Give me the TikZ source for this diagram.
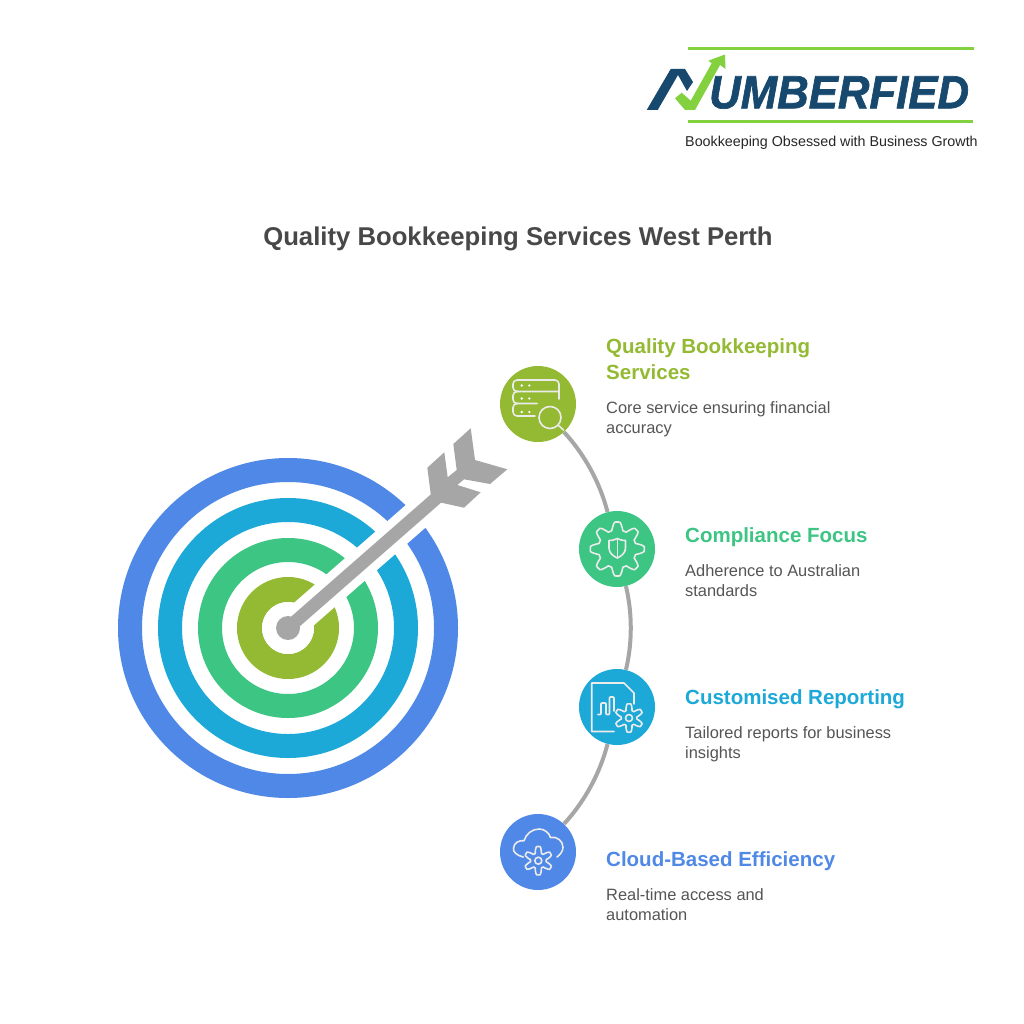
\documentclass[tikz,border=0pt]{standalone}
\usepackage{fontspec}
\setmainfont{Liberation Sans}
\newfontfamily\logofont[FakeBold=1.5]{Liberation Sans}
\definecolor{olivec}{HTML}{94BA33}
\definecolor{greenc}{HTML}{3CC583}
\definecolor{cyanc}{HTML}{1DA9D8}
\definecolor{bluec}{HTML}{4F88E6}
\definecolor{grayc}{HTML}{A6A6A6}
\definecolor{titlec}{HTML}{484848}
\definecolor{bodyc}{HTML}{555555}
\definecolor{navyc}{HTML}{17496F}
\definecolor{limec}{HTML}{84D13F}
\tikzset{
  ring/.style={line width=24pt,draw=#1,fill=none},
  badge/.style={circle,minimum size=76pt,inner sep=0pt,fill=#1},
  heading/.style={anchor=north west,inner sep=0pt,align=left,font=\fontsize{20.5}{26}\selectfont\bfseries,text=#1},
  bodytext/.style={anchor=north west,inner sep=0pt,align=left,font=\fontsize{16.4}{20}\selectfont,text=bodyc},
  link/.style={draw=grayc,line width=4pt,looseness=.85},
  ico/.style={draw=white!92!black,line width=1.6pt,line cap=round,line join=round,fill=none}
}
\newcommand{\gearicon}[6]{%
  \draw[ico] plot[domain=0:360,samples=361,variable=\t]
  ({#1+(#3+#4*max(min(1.35*cos(#5*\t+#6),1),-1))*cos(\t)},{#2+(#3+#4*max(min(1.35*cos(#5*\t+#6),1),-1))*sin(\t)}) -- cycle;
}
\begin{document}
\begin{tikzpicture}[x=1pt,y=-1pt]
\useasboundingbox (0,0) rectangle (1024,1024);
\fill[white] (0,0) rectangle (1024,1024);
% logo
\draw[limec,line width=3pt] (688,49) -- (974,49);
\draw[limec,line width=3pt] (688,122) -- (973,122);
\fill[navyc] (646.7,110) -- (670.7,69) -- (685,69) -- (693,82) -- (687,91) -- (678,75) -- (657.7,110) -- cycle;
\fill[limec] (675,98.3) -- (681.7,92.7) -- (690.7,100.7) -- (711.7,63.3) -- (708.3,60.7) -- (725,54.5) -- (725.5,69) -- (720,65) -- (695,110) -- (685,110) -- cycle;
\node[anchor=west,inner sep=0pt,text=navyc] (logotext) at (709,92.5) {\logofont\fontsize{46.5}{46.5}\selectfont\itshape\bfseries\scalebox{.94}[1]{UMBERFIED}};
\node[anchor=west,inner sep=0pt,text=black!85] (tagline) at (685,142.5) {\fontsize{14.3}{16}\selectfont Bookkeeping Obsessed with Business Growth};
% title
\node[inner sep=0pt,text=titlec] (title) at (518,239) {\fontsize{25.7}{32}\selectfont\bfseries Quality Bookkeeping Services West Perth};
% target
\coordinate (hub) at (288,628);
\draw[ring=bluec] (hub) circle (158);
\draw[ring=cyanc] (hub) circle (118);
\draw[ring=greenc] (hub) circle (78);
\draw[line width=25pt,draw=olivec] (hub) circle (38.5);
\coordinate (cutend) at (440,495);
\draw[white,line width=30pt] (hub) -- (cutend);
\fill[white] (hub) circle (26);
\draw[grayc,line width=13pt] (hub) -- (cutend);
\fill[grayc] (hub) circle (12);
\fill[grayc] (470.7,428.3) -- (475,460) -- (507.3,469.3) -- (490,484) -- (464,479.3) -- (457.3,485) -- (480.7,492.3) -- (464,507.7) -- (436.7,501.7) -- (430.7,494) -- (427.3,467.7) -- (444.3,452.3) -- (447.7,477.3) -- (456.7,470) -- (453.3,444) -- cycle;
% badges
\node[badge=olivec] (a) at (538,404) {};
\node[badge=greenc] (b) at (617,549) {};
\node[badge=cyanc] (c) at (617,707) {};
\node[badge=bluec] (d) at (538,852) {};
\draw[link] (a) to[bend left=14.2] (b);
\draw[link] (b) to[bend left=13.5] (c);
\draw[link] (c) to[bend left=14.2] (d);
% icon a
\draw[ico,rounded corners=4pt] (559,399) -- (559,380) -- (513,380) -- (513,391.5) -- (559,391.5);
\draw[ico,rounded corners=4pt] (518,391.5) -- (513,391.5) -- (513,403.5) -- (537,403.5);
\draw[ico,rounded corners=4pt] (518,403.5) -- (513,403.5) -- (513,416) -- (535,416);
\foreach \yy in {385.5,398.5,412}{\fill[white] (521.7,\yy) circle (1.3); \fill[white] (529.3,\yy) circle (1.3);}
\draw[ico] (550,417.5) circle (11);
\draw[ico] (558,425) -- (563.5,430);
% icon b
\gearicon{617.3}{549}{23}{4}{8}{0}
\draw[ico] (609,540.5) .. controls (613,540.5) and (615,539.5) .. (617.3,538.5) .. controls (619.5,539.5) and (621.5,540.5) .. (625.5,540.5) -- (625.5,548) .. controls (625.5,553) and (621.5,556) .. (617.3,558) .. controls (613,556) and (609,553) .. (609,548) -- cycle;
\draw[ico] (617.3,538.5) -- (617.3,558);
% icon c
\draw[ico] (614,731.5) -- (591.7,731.5) -- (591.7,683) -- (624,683) -- (634,693) -- (634,704);
\draw[ico,rounded corners=.8pt] (598,714.5) -- (601,714.5) -- (601,703) -- (606,703) -- (606,714.5) -- (609.5,714.5) -- (609.5,697) -- (614,697) -- (614,711);
\gearicon{629}{718}{11}{3.2}{6}{180}
\draw[ico] (629,718) circle (3.5);
% icon d
\draw[ico] (523.3,857) .. controls (516,855) and (513,852) .. (513.5,848) .. controls (514,843) and (519,840) .. (524,840.7) .. controls (526,834) and (532,829) .. (539,829) .. controls (545,829) and (549,833) .. (550.5,837.5) .. controls (557,836) and (563,841) .. (563,847.5) .. controls (563,851) and (560,855) .. (557,857);
\gearicon{538.3}{860.7}{11}{3.2}{6}{180}
\draw[ico] (538.3,860.7) circle (3.5);
% labels
\node[heading=olivec] (la) at (606,338) {Quality Bookkeeping\\Services};
\node[bodytext] (ta) at (606,401) {Core service ensuring financial\\accuracy};
\node[heading=greenc] (lb) at (685,527) {Compliance Focus};
\node[bodytext] (tb) at (685,564) {Adherence to Australian\\standards};
\node[heading=cyanc] (lc) at (685,689) {Customised Reporting};
\node[bodytext] (tc) at (685,726) {Tailored reports for business\\insights};
\node[heading=bluec] (ld) at (606,851) {Cloud-Based Efficiency};
\node[bodytext] (td) at (606,888) {Real-time access and\\automation};
\end{tikzpicture}
\end{document}
